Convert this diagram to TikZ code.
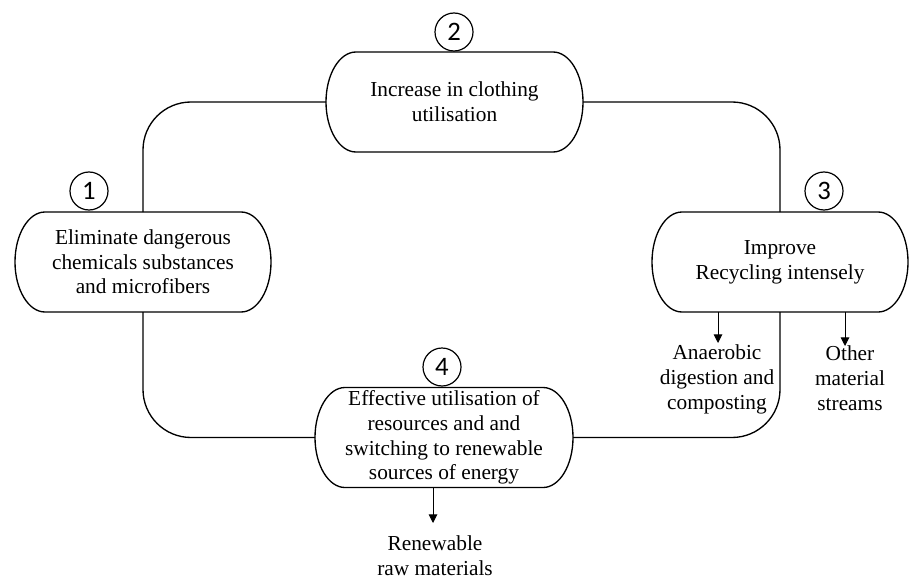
\documentclass[tikz,border=0pt]{standalone}
\usepackage{fontspec}
\setmainfont{Liberation Serif}
\newfontfamily\digitfont{Carlito}
\usetikzlibrary{arrows.meta}
\begin{document}
\begin{tikzpicture}[x=0.75pt,y=-0.75pt,
  box/.style={draw=none,inner sep=0pt,outer sep=0pt,minimum height=75pt,align=center,
    font=\fontsize{16}{18.5}\selectfont},
  num/.style={circle,draw,line width=0.9pt,fill=white,minimum size=28.5pt,inner sep=0pt,
    font=\digitfont\fontsize{20}{20}\selectfont},
  lab/.style={align=center,inner sep=0pt,font=\fontsize{16}{19}\selectfont},
  loopline/.style={line width=1pt,rounded corners=36pt},
  outarrow/.style={line width=0.7pt,-{Triangle[length=6.5pt,width=6.5pt]}}]
\useasboundingbox (0,0) rectangle (909,581);

\node[box,minimum width=192pt] (n1) at (143,262) {Eliminate dangerous\\chemicals substances\\and microfibers};
\node[box,minimum width=192.75pt] (n2) at (454.5,102) {Increase in clothing\\utilisation};
\node[box,minimum width=192pt] (n3) at (780,262) {Improve\\Recycling intensely};
\node[box,minimum width=193.5pt] (n4) at (444,437.5) {Effective utilisation of\\resources and and\\switching to renewable\\sources of energy};

% loop connectors
\draw[loopline] (n2.west) -| (n1.north);
\draw[loopline] (n1.south) |- (n4.west);
\draw[loopline] (n4.east) -| (n3.south);
\draw[loopline] (n3.north) |- (n2.east);

% node outlines (elliptical ends)
\foreach \n in {n1,n2,n3,n4}{
  \draw[line width=1pt]
    ([xshift=22.5pt]\n.north west) -- ([xshift=-22.5pt]\n.north east)
    arc[start angle=90,end angle=-90,x radius=22.5pt,y radius=37.5pt]
    -- ([xshift=22.5pt]\n.south west)
    arc[start angle=270,end angle=90,x radius=22.5pt,y radius=37.5pt] -- cycle;
}

% number circles
\node[num] (c1) at (89,191) {1};
\node[num] (c2) at (454,32) {2};
\node[num] (c3) at (824,191) {3};
\node[num] (c4) at (442,367) {4};

% output labels
\node[lab,anchor=north] (l1) at (717,344) {Anaerobic\\digestion and\\composting};
\node[lab,anchor=north] (l2) at (850,345) {Other\\material\\streams};
\node[lab,anchor=north] (l3) at (435,535) {Renewable\\raw materials};

\coordinate (a1) at (718,343);
\coordinate (a2) at (845,346);
\coordinate (a3) at (433,523);
\draw[outarrow] (n3.south -| a1) -- (a1);
\draw[outarrow] (n3.south -| a2) -- (a2);
\draw[outarrow] (n4.south -| a3) -- (a3);
\end{tikzpicture}
\end{document}
